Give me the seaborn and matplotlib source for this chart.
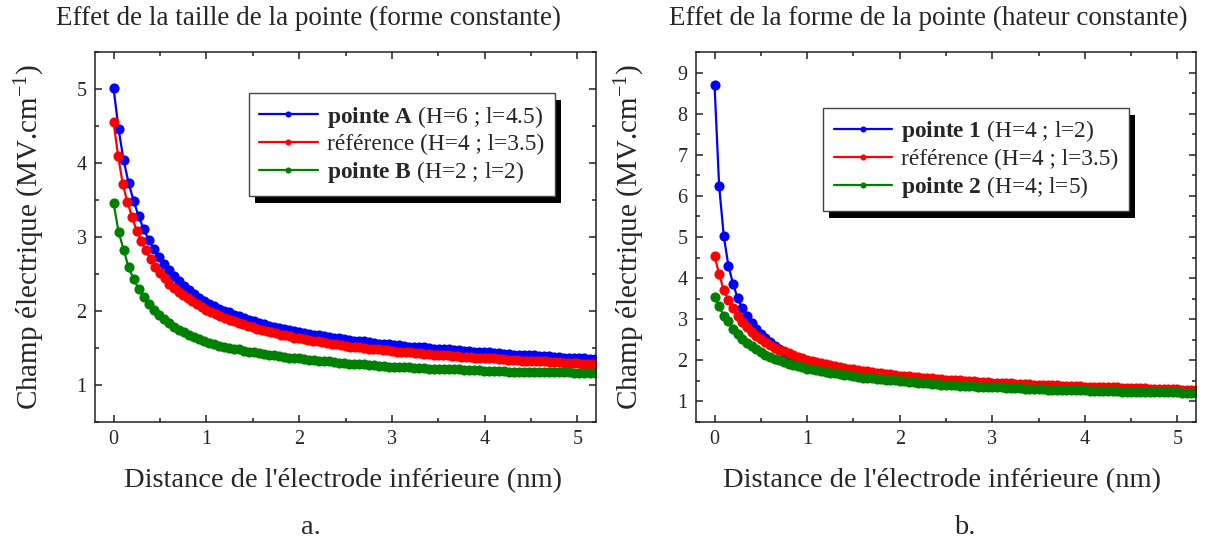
import numpy as np
import matplotlib
matplotlib.use("Agg")
import matplotlib.pyplot as plt
import seaborn as sns
from matplotlib.patches import Rectangle

# =========================================
# DATA
# =========================================
# panel a: pointe A / pointe B sampled every ~0.054 nm, reference every 0.05 nm
dist_ab = np.arange(97) * 0.054
dist_ref = np.arange(105) * 0.05

pointe_a = [5.01, 4.46, 4.04, 3.73, 3.49, 3.28, 3.11, 2.96, 2.84, 2.73,
            2.63, 2.55, 2.47, 2.40, 2.34, 2.28, 2.23, 2.18, 2.14, 2.10,
            2.07, 2.03, 2.00, 1.98, 1.95, 1.93, 1.90, 1.88, 1.86, 1.84,
            1.82, 1.80, 1.79, 1.77, 1.76, 1.74, 1.73, 1.72, 1.70, 1.69,
            1.68, 1.67, 1.66, 1.65, 1.64, 1.63, 1.62, 1.61, 1.60, 1.59,
            1.59, 1.58, 1.57, 1.56, 1.56, 1.55, 1.54, 1.54, 1.53, 1.52,
            1.52, 1.51, 1.51, 1.50, 1.49, 1.49, 1.48, 1.48, 1.47, 1.47,
            1.46, 1.46, 1.45, 1.45, 1.44, 1.44, 1.43, 1.43, 1.42, 1.42,
            1.41, 1.41, 1.41, 1.40, 1.40, 1.39, 1.39, 1.39, 1.38, 1.38,
            1.37, 1.37, 1.37, 1.36, 1.36, 1.35, 1.35]

pointe_b = [3.46, 3.07, 2.83, 2.59, 2.43, 2.30, 2.19, 2.10, 2.02, 1.95,
            1.89, 1.84, 1.79, 1.75, 1.71, 1.68, 1.65, 1.62, 1.59, 1.57,
            1.55, 1.53, 1.52, 1.50, 1.49, 1.48, 1.46, 1.45, 1.44, 1.43,
            1.42, 1.41, 1.40, 1.39, 1.38, 1.37, 1.37, 1.36, 1.35, 1.34,
            1.34, 1.33, 1.32, 1.32, 1.31, 1.30, 1.30, 1.29, 1.29, 1.28,
            1.28, 1.27, 1.27, 1.26, 1.26, 1.25, 1.25, 1.25, 1.24, 1.24,
            1.23, 1.23, 1.23, 1.22, 1.22, 1.22, 1.21, 1.21, 1.21, 1.21,
            1.20, 1.20, 1.20, 1.20, 1.19, 1.19, 1.19, 1.19, 1.19, 1.18,
            1.18, 1.18, 1.18, 1.18, 1.18, 1.17, 1.17, 1.17, 1.17, 1.17,
            1.17, 1.17, 1.16, 1.16, 1.16, 1.16, 1.16]

reference = [4.55, 4.09, 3.71, 3.47, 3.27, 3.08, 2.94, 2.82, 2.70, 2.60,
             2.51, 2.44, 2.37, 2.31, 2.26, 2.22, 2.17, 2.13, 2.09, 2.06,
             2.02, 1.99, 1.96, 1.93, 1.91, 1.88, 1.86, 1.84, 1.82, 1.80,
             1.78, 1.76, 1.74, 1.73, 1.71, 1.70, 1.68, 1.67, 1.66, 1.64,
             1.63, 1.62, 1.61, 1.60, 1.59, 1.58, 1.57, 1.56, 1.55, 1.54,
             1.53, 1.52, 1.51, 1.51, 1.50, 1.49, 1.49, 1.48, 1.47, 1.47,
             1.46, 1.45, 1.45, 1.44, 1.44, 1.43, 1.43, 1.42, 1.42, 1.41,
             1.41, 1.40, 1.40, 1.39, 1.39, 1.38, 1.38, 1.38, 1.37, 1.37,
             1.36, 1.36, 1.36, 1.35, 1.35, 1.34, 1.34, 1.34, 1.33, 1.33,
             1.33, 1.32, 1.32, 1.32, 1.31, 1.31, 1.31, 1.30, 1.30, 1.30,
             1.30, 1.29, 1.29, 1.29, 1.29]

# panel b: every 0.05 nm
pointe_1 = [8.70, 6.24, 5.02, 4.30, 3.86, 3.51, 3.27, 3.07, 2.91, 2.77,
            2.65, 2.54, 2.44, 2.35, 2.27, 2.20, 2.14, 2.09, 2.04, 2.00,
            1.96, 1.93, 1.90, 1.88, 1.85, 1.83, 1.81, 1.79, 1.77, 1.75,
            1.74, 1.72, 1.70, 1.69, 1.67, 1.66, 1.64, 1.63, 1.62, 1.61,
            1.60, 1.59, 1.58, 1.57, 1.56, 1.55, 1.54, 1.53, 1.52, 1.51,
            1.50, 1.49, 1.48, 1.48, 1.47, 1.46, 1.46, 1.45, 1.44, 1.44,
            1.43, 1.42, 1.42, 1.41, 1.41, 1.40, 1.40, 1.39, 1.39, 1.38,
            1.38, 1.37, 1.37, 1.36, 1.36, 1.35, 1.35, 1.35, 1.34, 1.34,
            1.33, 1.33, 1.33, 1.32, 1.32, 1.31, 1.31, 1.31, 1.30, 1.30,
            1.30, 1.29, 1.29, 1.29, 1.28, 1.28, 1.28, 1.27, 1.27, 1.27,
            1.27, 1.26, 1.26, 1.26, 1.26]

pointe_2 = [3.55, 3.31, 3.08, 2.95, 2.77, 2.65, 2.53, 2.43, 2.34, 2.27,
            2.20, 2.14, 2.09, 2.04, 2.00, 1.96, 1.92, 1.89, 1.86, 1.83,
            1.80, 1.78, 1.76, 1.74, 1.72, 1.70, 1.68, 1.67, 1.65, 1.64,
            1.61, 1.60, 1.58, 1.57, 1.56, 1.55, 1.54, 1.53, 1.52, 1.51,
            1.50, 1.49, 1.48, 1.47, 1.46, 1.45, 1.44, 1.43, 1.42, 1.41,
            1.40, 1.40, 1.39, 1.38, 1.38, 1.37, 1.37, 1.36, 1.36, 1.35,
            1.35, 1.34, 1.34, 1.33, 1.33, 1.32, 1.32, 1.31, 1.31, 1.31,
            1.30, 1.30, 1.29, 1.29, 1.29, 1.28, 1.28, 1.28, 1.27, 1.27,
            1.27, 1.26, 1.26, 1.26, 1.25, 1.25, 1.25, 1.25, 1.24, 1.24,
            1.24, 1.24, 1.23, 1.23, 1.23, 1.23, 1.22, 1.22, 1.22, 1.22,
            1.22, 1.21, 1.21, 1.21, 1.21]

labels_a = [r"$\mathbf{pointe\ A}$ (H=6 ; l=4.5)",
            "référence (H=4 ; l=3.5)",
            r"$\mathbf{pointe\ B}$ (H=2 ; l=2)"]
labels_b = [r"$\mathbf{pointe\ 1}$ (H=4 ; l=2)",
            "référence (H=4 ; l=3.5)",
            r"$\mathbf{pointe\ 2}$ (H=4; l=5)"]
titles = ["Effet de la taille de la pointe (forme constante)",
          "Effet de la forme de la pointe (hateur constante)"]
xlabel = "Distance de l'électrode inférieure (nm)"
ylabel = r"Champ électrique (MV.cm$^{-1}$)"
colors = ["#0000ff", "#ff0000", "#008000"]

# =========================================
# STYLE
# =========================================
sns.set_style("ticks")
plt.rcParams["font.family"] = ["Liberation Serif", "DejaVu Serif"]
plt.rcParams["mathtext.fontset"] = "custom"
plt.rcParams["mathtext.rm"] = "Liberation Serif"
plt.rcParams["mathtext.bf"] = "Liberation Serif:bold"
plt.rcParams["mathtext.it"] = "Liberation Serif:italic"

fig = plt.figure(figsize=(12.15, 5.45), dpi=100)
W, H = 1215, 545
ax_a = fig.add_axes([95 / W, 1 - 422 / H, 501 / W, 370 / H])
ax_b = fig.add_axes([696 / W, 1 - 422 / H, 500 / W, 370 / H])

line_kw = dict(marker="o", markersize=7.3, markeredgewidth=0, linewidth=1.6)

sns.lineplot(x=dist_ab, y=pointe_a, color=colors[0], label=labels_a[0], ax=ax_a, **line_kw)
sns.lineplot(x=dist_ref, y=reference, color=colors[1], label=labels_a[1], ax=ax_a, **line_kw)
sns.lineplot(x=dist_ab, y=pointe_b, color=colors[2], label=labels_a[2], ax=ax_a, **line_kw)

sns.lineplot(x=dist_ref, y=pointe_1, color=colors[0], label=labels_b[0], ax=ax_b, **line_kw)
sns.lineplot(x=dist_ref, y=reference, color=colors[1], label=labels_b[1], ax=ax_b, **line_kw)
sns.lineplot(x=dist_ref, y=pointe_2, color=colors[2], label=labels_b[2], ax=ax_b, **line_kw)

ax_a.set_ylim(0.5, 5.5)
ax_a.set_yticks([1, 2, 3, 4, 5])
ax_b.set_ylim(0.5, 9.5)
ax_b.set_yticks(range(1, 10))

legend_pos = [(0.307, 0.889), (0.254, 0.849)]
for ax, anchor in zip([ax_a, ax_b], legend_pos):
    ax.set_xlim(-0.2, 5.2)
    ax.set_xticks([0, 1, 2, 3, 4, 5])
    ax.set_xticks(np.arange(0.5, 5.2, 1), minor=True)
    ax.set_yticks(np.arange(0.5, ax.get_ylim()[1] + 0.01, 1), minor=True)
    ax.set_xlabel("")
    ax.set_ylabel("")
    for s in ax.spines.values():
        s.set_visible(True)
        s.set_linewidth(1.1)
        s.set_color("#222222")
    ax.tick_params(which="both", direction="in", top=True, right=True,
                   width=1.1, color="#222222", labelsize=14.5)
    ax.tick_params(axis="x", pad=6)
    ax.tick_params(axis="y", pad=6)
    ax.tick_params(which="major", length=5)
    ax.tick_params(which="minor", length=3)
    leg = ax.legend(loc="upper left", bbox_to_anchor=anchor, borderaxespad=0,
                    fontsize=16.8, frameon=True, fancybox=False, framealpha=1,
                    edgecolor="#444444", handlelength=2.5, markerscale=0.6,
                    labelspacing=0.18, handletextpad=0.4, borderpad=0.45)
    leg.get_frame().set_linewidth(1.0)

# drop shadows behind legends (solid black, offset down/right)
fig.canvas.draw()
for ax in [ax_a, ax_b]:
    leg = ax.get_legend()
    bb = leg.get_window_extent().transformed(ax.transAxes.inverted())
    dx = 6 / ax.bbox.width
    dy = 7 / ax.bbox.height
    ax.add_patch(Rectangle((bb.x0 + dx, bb.y0 - dy), bb.width, bb.height,
                           transform=ax.transAxes, facecolor="black",
                           edgecolor="none", zorder=4.5, clip_on=False))

# titles, axis labels, panel letters
fig.text(308 / W, 1 - 18 / H, titles[0], ha="center", va="center", fontsize=19.5)
fig.text(928 / W, 1 - 18 / H, titles[1], ha="center", va="center", fontsize=19.5)
for cx in [343, 942]:
    fig.text(cx / W, 1 - 481 / H, xlabel, ha="center", va="center", fontsize=20.5)
for cx in [30, 630]:
    fig.text(cx / W, 1 - 237 / H, ylabel, ha="center", va="center",
             rotation=90, fontsize=21)
fig.text(311 / W, 1 - 527 / H, "a.", ha="center", va="center", fontsize=20.5)
fig.text(965 / W, 1 - 527 / H, "b.", ha="center", va="center", fontsize=20.5)

fig.savefig("out.png", dpi=100)
